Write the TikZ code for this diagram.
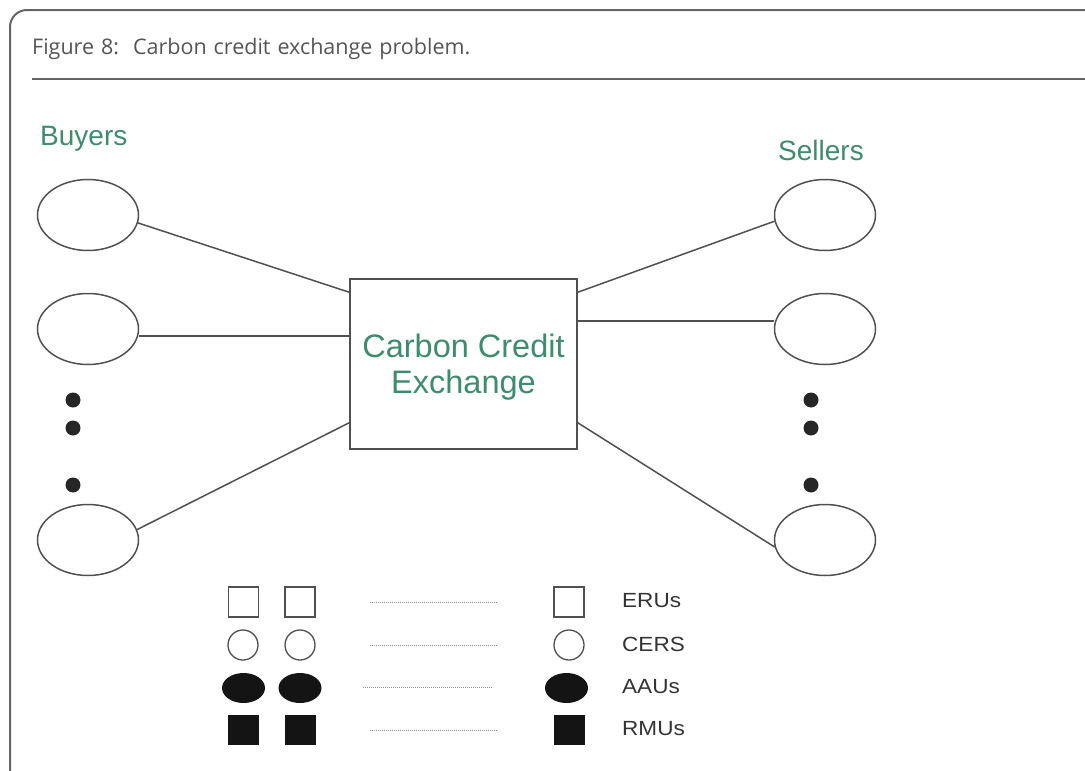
\documentclass[tikz,border=0pt]{standalone}
\usepackage{fontspec}
\setmainfont{Liberation Sans}
\newfontfamily\capfont[WordSpace=1.25]{Open Sans}
\newfontfamily\legfont[FakeStretch=1.1]{Liberation Sans}
\usetikzlibrary{shapes.geometric}
\definecolor{framegray}{RGB}{100,100,100}
\definecolor{capgray}{RGB}{85,85,85}
\definecolor{labgreen}{RGB}{62,140,110}
\definecolor{linegray}{RGB}{80,80,80}
\tikzset{
  party/.style={ellipse, draw=linegray, line width=1.5pt, minimum width=101pt, minimum height=71pt, inner sep=0pt},
  link/.style={draw=linegray, line width=1.5pt},
  dotmark/.style={circle, fill=black!85, minimum size=15pt, inner sep=0pt},
  opensq/.style={rectangle, draw=linegray, line width=1.3pt, minimum width=30pt, minimum height=30pt, inner sep=0pt},
  opencirc/.style={circle, draw=linegray, line width=1.3pt, minimum size=30pt, inner sep=0pt},
  fillell/.style={ellipse, fill=black!92, minimum width=43pt, minimum height=30pt, inner sep=0pt},
  fillsq/.style={rectangle, fill=black!92, minimum width=31pt, minimum height=30pt, inner sep=0pt},
  leader/.style={draw=black!45, line width=1pt, densely dotted},
  leglabel/.style={anchor=west, inner sep=0pt, font=\legfont\fontsize{20.5}{24}\selectfont, text=black!80},
  grouplabel/.style={anchor=base west, inner sep=0pt, font=\fontsize{28}{32}\selectfont, text=labgreen},
}
\begin{document}
\begin{tikzpicture}[x=1pt, y=-1pt]
\useasboundingbox (0,0) rectangle (1085,771);
% frame
\draw[framegray, line width=2pt, rounded corners=17pt] (10,771) -- (10,10) -- (1085,10);
\draw[framegray, line width=1.5pt] (32,79) -- (1085,79);
\node[anchor=base west, inner sep=0pt, font=\capfont\fontsize{21.5}{24}\selectfont, text=capgray] (cap) at (32,54) {Figure 8:\ \ Carbon credit exchange problem.};

% group labels
\node[grouplabel] (buyers) at (40,145) {Buyers};
\node[grouplabel] (sellers) at (778,160) {Sellers};

% exchange box
\node[draw=linegray, line width=1.5pt, minimum width=227pt, minimum height=170pt, inner sep=0pt] (ex) at (463.5,364) {};
\node[align=center, inner sep=0pt, font=\fontsize{32.5}{36}\selectfont, text=labgreen] (exlabel) at ([yshift=-3pt]ex.center) {Carbon Credit\\Exchange};

% buyers
\node[party] (b1) at (88,215) {};
\node[party] (b2) at (88,329) {};
\node[party] (b4) at (88,540) {};
\node[dotmark] (bd1) at (73,400) {};
\node[dotmark] (bd2) at (73,428) {};
\node[dotmark] (bd3) at (73,485) {};

% sellers
\node[party] (s1) at (825,215) {};
\node[party] (s2) at (825,329) {};
\node[party] (s4) at (825,540) {};
\node[dotmark] (sd1) at (811,400) {};
\node[dotmark] (sd2) at (811,428) {};
\node[dotmark] (sd3) at (811,485) {};

% connectors
\coordinate (pb2) at ([yshift=-7pt]b2.east);
\coordinate (ps2) at ([yshift=8pt]s2.west);
\draw[link] (b1.-9) -- ([yshift=-14pt]ex.north west);
\draw[link] (pb2) -- (pb2 -| ex.west);
\draw[link] (b4.12) -- ([yshift=27pt]ex.south west);
\draw[link] (s1.187) -- ([yshift=-14pt]ex.north east);
\draw[link] (ps2) -- (ps2 -| ex.east);
\draw[link] (s4.188) -- ([yshift=27pt]ex.south east);

% legend
\node[opensq] (e1) at (243.5,602) {};
\node[opensq] (e2) at (300,602) {};
\node[opensq] (e3) at (569,602) {};
\node[opencirc] (c1) at (243,645) {};
\node[opencirc] (c2) at (300,645) {};
\node[opencirc] (c3) at (569,645) {};
\node[fillell] (a1) at (243.5,688) {};
\node[fillell] (a2) at (300,688) {};
\node[fillell] (a3) at (566.5,688) {};
\node[fillsq] (r1) at (243.5,730) {};
\node[fillsq] (r2) at (300,730) {};
\node[fillsq] (r3) at (569,730) {};

\coordinate (le1) at (370,602); \coordinate (le2) at (498,602);
\coordinate (lc1) at (370,645); \coordinate (lc2) at (498,645);
\coordinate (la1) at (363,687); \coordinate (la2) at (493,687);
\coordinate (lr1) at (370,730); \coordinate (lr2) at (498,730);
\draw[leader] (le1) -- (le2);
\draw[leader] (lc1) -- (lc2);
\draw[leader] (la1) -- (la2);
\draw[leader] (lr1) -- (lr2);

\node[leglabel] (t1) at (622,601) {ERUs};
\node[leglabel] (t2) at (622,644) {CERS};
\node[leglabel] (t3) at (622,687) {AAUs};
\node[leglabel] (t4) at (622,729) {RMUs};
\end{tikzpicture}
\end{document}
